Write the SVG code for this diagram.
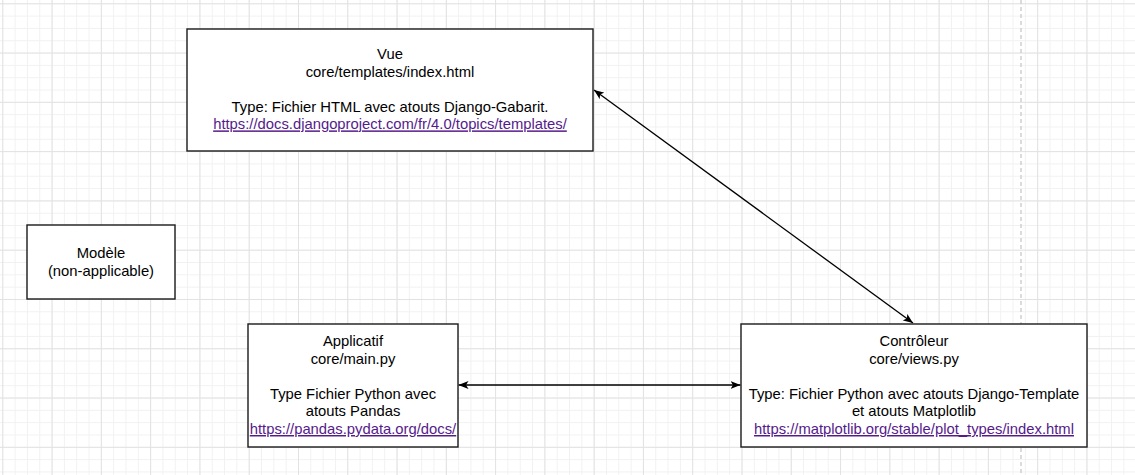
<svg xmlns="http://www.w3.org/2000/svg" width="1135" height="475" viewBox="0 0 1135 475">
<style>
.box{fill:#ffffff;stroke:#1a1a1a;stroke-width:1.4}
.t{font-family:"Liberation Sans",Arial,Helvetica,sans-serif;font-size:14.8px;fill:#000;text-anchor:middle}
.lnk{fill:#551A8B;text-decoration:underline}
.edge{fill:none;stroke:#000;stroke-width:1.3}
</style>
<defs>
<pattern id="gMinor" x="2.3" y="3.3" width="12.32" height="12.32" patternUnits="userSpaceOnUse">
<path d="M0.5 0V12.32M0 0.5H12.32" fill="none" stroke="#f1f1f1" stroke-width="1"/>
</pattern>
<pattern id="gMajor" x="2.3" y="3.3" width="49.28" height="49.28" patternUnits="userSpaceOnUse">
<path d="M0.5 0V49.28M0 0.5H49.28" fill="none" stroke="#e2e2e2" stroke-width="1"/>
</pattern>
<marker id="arr" viewBox="0 0 10 8" refX="10" refY="4" markerWidth="10" markerHeight="8" markerUnits="userSpaceOnUse" orient="auto-start-reverse">
<path d="M0 0L10 4L0 8L2.5 4Z" fill="#000"/>
</marker>
</defs>
<rect width="1135" height="475" fill="#ffffff"/>
<rect width="1135" height="475" fill="url(#gMinor)"/>
<rect width="1135" height="475" fill="url(#gMajor)"/>
<line x1="1021" y1="0" x2="1021" y2="475" stroke="#cfcfcf" stroke-width="1.5" stroke-dasharray="4 3"/>
<g id="connectors">
<line class="edge" x1="594" y1="90" x2="913" y2="323" marker-start="url(#arr)" marker-end="url(#arr)"/>
<line class="edge" x1="458.5" y1="385" x2="740.5" y2="385" marker-start="url(#arr)" marker-end="url(#arr)"/>
</g>
<g id="vue">
<rect class="box" x="187" y="29" width="406" height="122"/>
<text class="t" x="390" y="59">Vue</text>
<text class="t" x="390" y="76.6">core/templates/index.html</text>
<text class="t" x="390" y="111.8">Type: Fichier HTML avec atouts Django-Gabarit.</text>
<text class="t lnk" x="390" y="129.4">https://docs.djangoproject.com/fr/4.0/topics/templates/</text>
</g>
<g id="modele">
<rect class="box" x="27" y="225" width="148" height="74"/>
<text class="t" x="101" y="258.3">Modèle</text>
<text class="t" x="101" y="276">(non-applicable)</text>
</g>
<g id="applicatif">
<rect class="box" x="248" y="324" width="210" height="123"/>
<text class="t" x="353" y="346">Applicatif</text>
<text class="t" x="353" y="363.6">core/main.py</text>
<text class="t" x="353" y="398.8">Type Fichier Python avec</text>
<text class="t" x="353" y="416.4">atouts Pandas</text>
<text class="t lnk" x="353" y="434">https://pandas.pydata.org/docs/</text>
</g>
<g id="controleur">
<rect class="box" x="741" y="324" width="346" height="123"/>
<text class="t" x="914" y="346">Contrôleur</text>
<text class="t" x="914" y="363.6">core/views.py</text>
<text class="t" x="914" y="398.8">Type: Fichier Python avec atouts Django-Template</text>
<text class="t" x="914" y="416.4">et atouts Matplotlib</text>
<text class="t lnk" x="914" y="434">https://matplotlib.org/stable/plot_types/index.html</text>
</g>
</svg>
